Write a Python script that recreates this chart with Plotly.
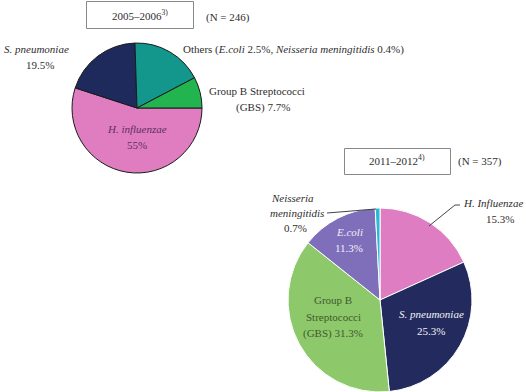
import plotly.graph_objects as go

W, H = 526, 392

# ---- data ----
labels_0506 = ["H. influenzae", "S. pneumoniae", "Others", "Group B Streptococci (GBS)"]
values_0506 = [55.0, 19.5, 17.8, 7.7]
colors_0506 = ["#E07DC0", "#1E2A5C", "#13978C", "#22B44F"]

labels_1112 = ["H. Influenzae", "S. pneumoniae", "Group B Streptococci (GBS)", "E.coli", "Neisseria meningitidis"]
values_1112 = [15.3, 25.3, 31.3, 11.3, 0.7]
colors_1112 = ["#DE7DC2", "#232B5E", "#8DC86A", "#7F6EB9", "#2BB8D6"]

title_0506 = "2005\u20132006<sup>3)</sup>"
title_1112 = "2011\u20132012<sup>4)</sup>"
n_0506 = "(N = 246)"
n_1112 = "(N = 357)"

FONT = "'Liberation Serif', 'DejaVu Serif', serif"
TXT = "#2e2e2e"


def px(x):
    return x / W


def py(y):
    return 1 - y / H


fig = go.Figure()

fig.add_trace(go.Pie(
    labels=labels_0506, values=values_0506, sort=False,
    direction="clockwise", rotation=90,
    marker=dict(colors=colors_0506, line=dict(color="#1a1a1a", width=1)),
    textinfo="none", hoverinfo="skip", showlegend=False,
    domain=dict(x=[px(72), px(202)], y=[py(173), py(43)]),
))

fig.add_trace(go.Pie(
    labels=labels_1112, values=values_1112, sort=False,
    direction="clockwise", rotation=0,
    marker=dict(colors=colors_1112, line=dict(color="#ffffff", width=1)),
    textinfo="none", hoverinfo="skip", showlegend=False,
    domain=dict(x=[px(288), px(472)], y=[py(392), py(208)]),
))

ann = []


def A(x, y, text, color=TXT, size=11, xanchor="center", align="center"):
    ann.append(dict(x=px(x), y=py(y), xref="paper", yref="paper", text=text,
                    showarrow=False, xanchor=xanchor, yanchor="middle", align=align,
                    font=dict(family=FONT, size=size, color=color)))


# titles
A(140, 15, title_0506)
A(228, 17, n_0506)
A(397, 160, title_1112)
A(480, 162, n_1112)

# pie 1 labels
A(36, 49, "<i>S. pneumoniae</i>")
A(40, 65, "19.5%")
A(181, 49, "Others (<i>E.coli</i> 2.5%, <i>Neisseria meningitidis</i> 0.4%)", xanchor="left")
A(257, 91, "Group B Streptococci")
A(263, 107, "(GBS) 7.7%")
A(137, 129, "<i>H. influenzae</i>", color="#5E2D63")
A(137, 145, "55%", color="#5E2D63")

# pie 2 labels
A(292, 198, "<i>Neisseria</i>")
A(297, 213, "<i>meningitidis</i>")
A(295, 228, "0.7%")
A(493, 203, "<i>H. Influenzae</i>")
A(500, 219, "15.3%")
A(349, 232, "<i>E.coli</i>", color="#F2EEFA")
A(349, 248, "11.3%", color="#F2EEFA")
A(333, 300, "Group B", color="#3F5A2C")
A(333, 317, "Streptococci", color="#3F5A2C")
A(333, 333, "(GBS) 31.3%", color="#3F5A2C")
A(431, 314, "<i>S. pneumoniae</i>", color="#F2F2F8")
A(431, 331, "25.3%", color="#F2F2F8")

shapes = [
    dict(type="rect", xref="paper", yref="paper", x0=px(86.5), x1=px(193.5), y0=py(28.5), y1=py(1.5),
         line=dict(color="#888888", width=1), fillcolor="rgba(0,0,0,0)"),
    dict(type="rect", xref="paper", yref="paper", x0=px(344.5), x1=px(450.5), y0=py(174.5), y1=py(148.5),
         line=dict(color="#888888", width=1), fillcolor="rgba(0,0,0,0)"),
    dict(type="line", xref="paper", yref="paper", x0=px(327), y0=py(213), x1=px(376), y1=py(209),
         line=dict(color="#444444", width=1)),
    dict(type="line", xref="paper", yref="paper", x0=px(429), y0=py(226), x1=px(455), y1=py(205),
         line=dict(color="#444444", width=1)),
    dict(type="line", xref="paper", yref="paper", x0=px(455), y0=py(205), x1=px(460), y1=py(205),
         line=dict(color="#444444", width=1)),
]

fig.update_layout(
    width=W, height=H, margin=dict(l=0, r=0, t=0, b=0),
    paper_bgcolor="white", plot_bgcolor="white",
    font=dict(family=FONT),
    annotations=ann, shapes=shapes,
)

fig.write_html("out.html")
